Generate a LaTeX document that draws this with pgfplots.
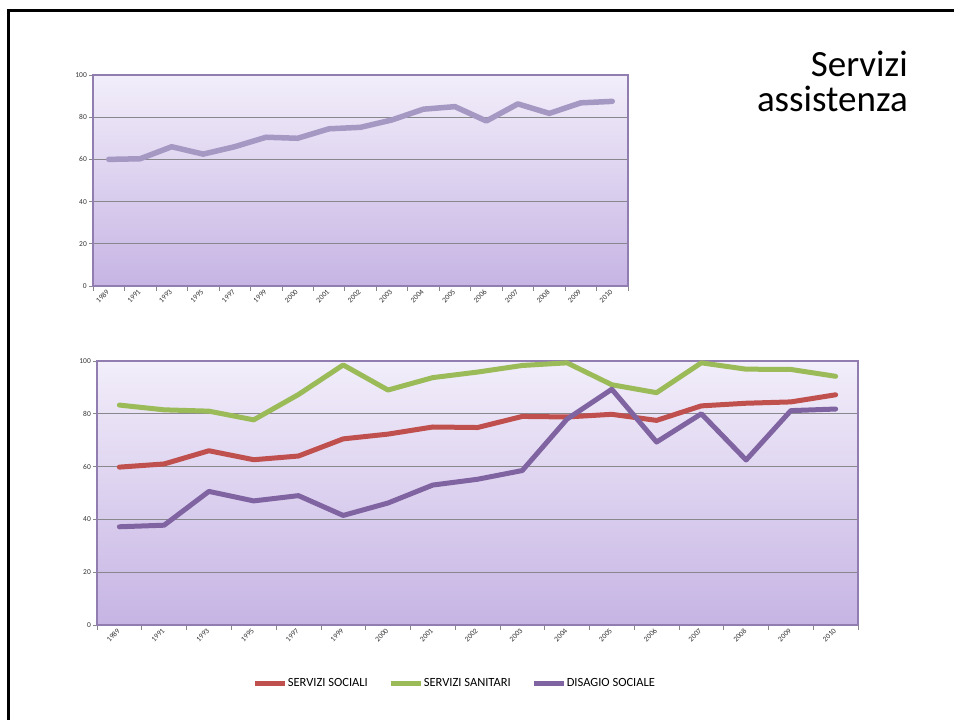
\documentclass[border=0pt]{standalone}
\usepackage{fontspec}
\setmainfont{Carlito}
\usepackage{pgfplots}
\pgfplotsset{compat=1.18}
\definecolor{topline}{RGB}{165,152,195}
\definecolor{cred}{RGB}{192,80,77}
\definecolor{cgreen}{RGB}{155,187,89}
\definecolor{cpurple}{RGB}{128,100,162}
\definecolor{bgtop}{RGB}{242,238,250}
\definecolor{bgbot}{RGB}{198,180,228}
\definecolor{borderc}{RGB}{145,125,175}
\definecolor{gridc}{RGB}{135,135,140}
\pgfplotsset{
  myaxis/.style={
    scale only axis,
    xmin=-0.5, xmax=16.5, ymin=0, ymax=100,
    ytick={0,20,...,100},
    xtick={0,...,16},
    xticklabels={1989,1991,1993,1995,1997,1999,2000,2001,2002,2003,2004,2005,2006,2007,2008,2009,2010},
    major x tick style={draw=none},
    minor xtick={-0.5,0.5,...,16.5},
    minor x tick style={draw=gridc, line width=0.6pt},
    major y tick style={draw=gridc, line width=0.6pt},
    xtick pos=bottom, ytick pos=left,
    tick align=outside,
    major tick length=4pt, minor tick length=5pt,
    ymajorgrids,
    grid style={draw=gridc, line width=0.8pt},
    axis line style={draw=borderc, line width=1.2pt},
    axis background/.style={top color=bgtop, bottom color=bgbot},
    /pgf/number format/assume math mode=true,
    ticklabel style={font=\fontsize{7.5}{7.5}\selectfont, text=black!80},
    xticklabel style={rotate=45, anchor=east, inner sep=1pt},
    yticklabel style={inner sep=2pt},
    every axis plot/.append style={line cap=round, line join=round},
  }
}
\begin{document}
\begin{tikzpicture}
\path[use as bounding box] (0pt,0pt) rectangle (954pt,720pt);
\draw[line width=3pt] (8pt,0pt) -- (8pt,709pt) -- (954pt,709pt);
\node[anchor=base east, inner sep=0pt, font=\fontsize{37}{37}\selectfont] at (908pt,643pt) {Servizi};
\node[anchor=base east, inner sep=0pt, font=\fontsize{37}{37}\selectfont] at (908pt,608pt) {assistenza};

\begin{axis}[myaxis, at={(93pt,434pt)}, anchor=south west, width=535pt, height=211pt]
\addplot[topline, line width=5.5pt] coordinates {
(0,60) (1,60.3) (2,66) (3,62.5) (4,66) (5,70.5) (6,70) (7,74.5) (8,75.2) (9,78.7)
(10,83.8) (11,85) (12,78.2) (13,86.3) (14,81.8) (15,86.8) (16,87.5)};
\end{axis}

\begin{axis}[myaxis, at={(97pt,95pt)}, anchor=south west, width=761pt, height=264pt,
  legend columns=3,
  legend style={at={(0.469,-0.22)}, anchor=center, draw=none, fill=none,
    font=\fontsize{12.5}{12.5}\selectfont,
    nodes={inner sep=0.5pt},
    /tikz/every even column/.append style={column sep=20pt}},
  legend image code/.code={\draw[#1, line cap=butt] (0pt,0pt) -- (30pt,0pt);},
]
\addplot[cred, line width=5pt] coordinates {
(0,59.8) (1,61) (2,66) (3,62.6) (4,64) (5,70.5) (6,72.3) (7,75) (8,74.8) (9,79)
(10,78.8) (11,79.8) (12,77.5) (13,83) (14,84) (15,84.5) (16,87.2)};
\addlegendentry{SERVIZI SOCIALI}
\addplot[cgreen, line width=5pt] coordinates {
(0,83.3) (1,81.5) (2,81) (3,77.7) (4,87.3) (5,98.5) (6,89) (7,93.7) (8,95.8) (9,98.3)
(10,99.3) (11,91) (12,88) (13,99.3) (14,96.9) (15,96.8) (16,94.2)};
\addlegendentry{SERVIZI SANITARI}
\addplot[cpurple, line width=5pt] coordinates {
(0,37.2) (1,37.8) (2,50.6) (3,47) (4,49) (5,41.5) (6,46.2) (7,53) (8,55.2) (9,58.5)
(10,78) (11,89.3) (12,69.3) (13,80) (14,62.5) (15,81.2) (16,81.8)};
\addlegendentry{DISAGIO SOCIALE}
\end{axis}
\end{tikzpicture}
\end{document}
